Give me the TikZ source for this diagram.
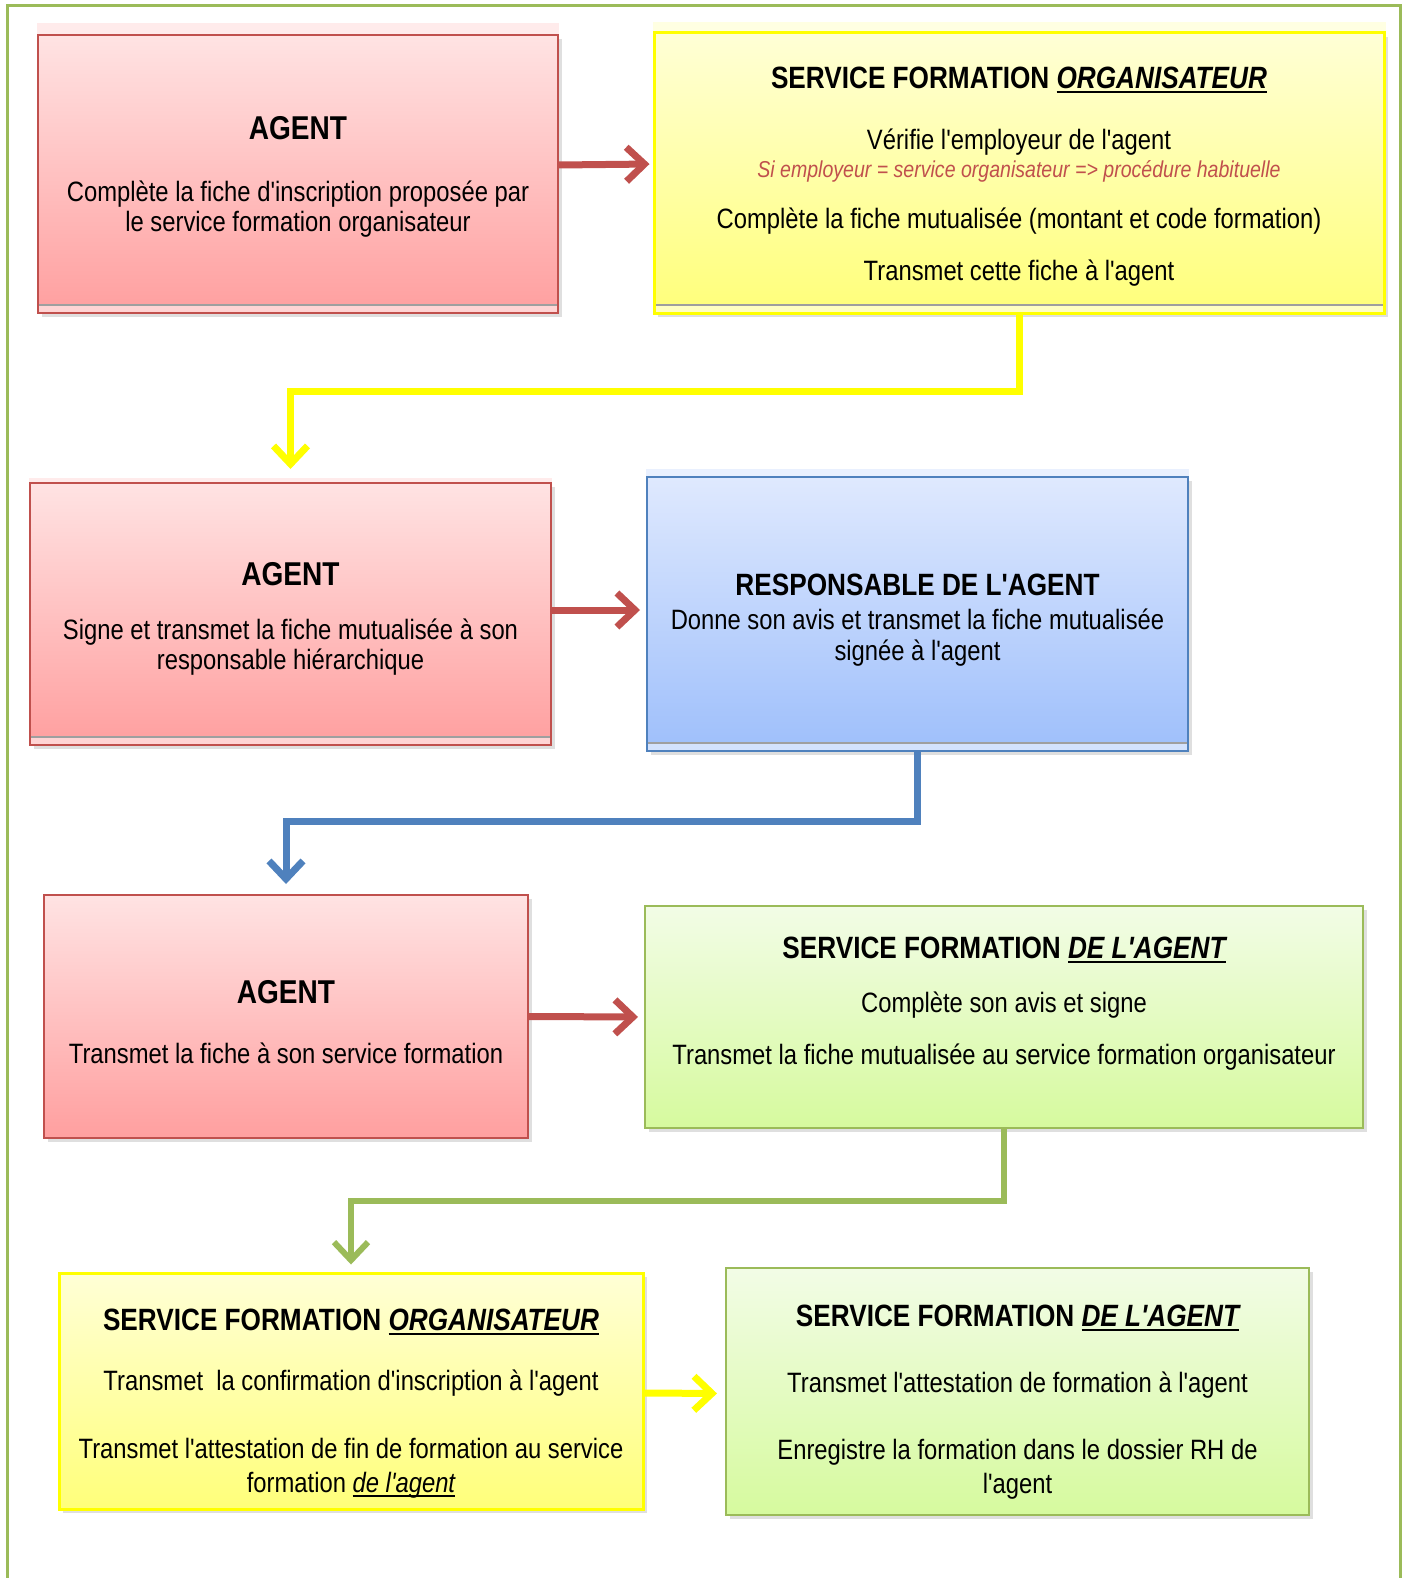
\documentclass[tikz,border=0pt]{standalone}
\usepackage{fontspec}
\setmainfont{Liberation Sans}[FakeStretch=0.85, Ligatures=TeXOff]
\usetikzlibrary{arrows.meta,shadows}

\definecolor{redline}{HTML}{C0504D}
\definecolor{redtop}{HTML}{FFE3E3}
\definecolor{redbot}{HTML}{FF9F9F}
\definecolor{yeltop}{HTML}{FFFFD6}
\definecolor{yelbot}{HTML}{FFFF7A}
\definecolor{yelline}{HTML}{FFFF00}
\definecolor{bluetop}{HTML}{DFE9FE}
\definecolor{bluebot}{HTML}{9EBFFB}
\definecolor{blueline}{HTML}{4F81BD}
\definecolor{greentop}{HTML}{F2FCE6}
\definecolor{greenbot}{HTML}{D6FA9E}
\definecolor{greenline}{HTML}{9BBB59}

\newcommand\titlefont{\fontsize{15.4}{18}\selectfont\bfseries}
\newcommand\agentfont{\fontsize{16.5}{18}\selectfont\bfseries}
\newcommand\notefont{\fontsize{11.5}{13}\selectfont\itshape}
\newcommand\pad[1]{\rule{0pt}{#1}}
\newcommand\ulbold[1]{\setbox0=\hbox{\itshape #1}\rlap{\rule[-2.4pt]{\wd0}{1.4pt}}\box0}
\newcommand\ulthin[1]{\setbox0=\hbox{\itshape #1}\rlap{\rule[-2.4pt]{\wd0}{1pt}}\box0}

\tikzset{
  box/.style={draw, line width=1pt, align=center,
    font=\fontsize{14}{16}\selectfont,
    drop shadow={opacity=0.25, shadow xshift=2pt, shadow yshift=-2pt}},
  bevel/.style={path picture={
    \fill[white, opacity=0.55] ([yshift=4pt]path picture bounding box.south west)
      rectangle (path picture bounding box.south east);
    \draw[gray!75, line width=1pt] ([yshift=4pt]path picture bounding box.south west)
      -- ([yshift=4pt]path picture bounding box.south east);}},
  redbox/.style={box, draw=redline, top color=redtop, bottom color=redbot},
  yelbox/.style={box, draw=yelline, line width=1.5pt, top color=yeltop, bottom color=yelbot},
  bluebox/.style={box, draw=blueline, top color=bluetop, bottom color=bluebot},
  greenbox/.style={box, draw=greenline, top color=greentop, bottom color=greenbot},
  band/.style={fill=#1, opacity=0.7},
  link/.style={line width=3.5pt, -{Straight Barb[length=9pt,width=17pt]}},
  frame/.style={draw=greenline, line width=1.5pt}
}

\begin{document}
\begin{tikzpicture}[x=0.5pt,y=-0.5pt]
  \useasboundingbox (0,0) rectangle (1406,1578);
  \draw[frame] (7,1578) |- (1400,6) -- (1400,1578);

  % first row
  \node[redbox, bevel, minimum width=260pt, minimum height=139pt] (agent1) at (298,174)
    {\pad{14pt}{\agentfont AGENT}\\[15pt]
     Complète la fiche d'inscription proposée par\\[-1pt]
     le service formation organisateur};
  \node[yelbox, bevel, minimum width=365pt, minimum height=140pt] (orga1) at (1019,173)
    {\pad{14.5pt}{\titlefont SERVICE FORMATION \ulbold{ORGANISATEUR}}\\[14.5pt]
     Vérifie l'employeur de l'agent\\[-2pt]
     {\notefont\color{redline}Si employeur = service organisateur => procédure habituelle}\\[9.5pt]
     Complète la fiche mutualisée (montant et code formation)\\[10pt]
     Transmet cette fiche à l'agent};

  % second row
  \node[redbox, bevel, minimum width=260.5pt, minimum height=131pt] (agent2) at (290.5,614)
    {\pad{16.5pt}{\agentfont AGENT}\\[11pt]
     Signe et transmet la fiche mutualisée à son\\[-1pt]
     responsable hiérarchique};
  \node[bluebox, bevel, minimum width=270.5pt, minimum height=137pt] (resp) at (917.5,614)
    {\pad{16.5pt}{\titlefont RESPONSABLE DE L'AGENT}\\[1pt]
     Donne son avis et transmet la fiche mutualisée\\[-0.5pt]
     signée à l'agent};

  % third row
  \node[redbox, minimum width=242pt, minimum height=121.5pt] (agent3) at (286,1016.5)
    {\pad{17pt}{\agentfont AGENT}\\[14pt]
     Transmet la fiche à son service formation};
  \node[greenbox, minimum width=359pt, minimum height=111pt] (sfagent1) at (1004,1017)
    {\pad{16.5pt}{\titlefont SERVICE FORMATION \ulbold{DE L'AGENT}}\\[11pt]
     Complète son avis et signe\\[10pt]
     Transmet la fiche mutualisée au service formation organisateur\\[6pt]
     \mbox{}};

  % fourth row
  \node[yelbox, minimum width=292pt, minimum height=118pt] (orga2) at (351,1391)
    {\pad{23.5pt}{\titlefont SERVICE FORMATION \ulbold{ORGANISATEUR}}\\[14pt]
     Transmet\ \ la confirmation d'inscription à l'agent\\[18pt]
     Transmet l'attestation de fin de formation au service\\[1pt]
     formation \ulthin{de l'agent}};
  \node[greenbox, minimum width=291.5pt, minimum height=123.5pt] (sfagent2) at (1017.5,1391.5)
    {\pad{21.5pt}{\titlefont SERVICE FORMATION \ulbold{DE L'AGENT}}\\[17pt]
     Transmet l'attestation de formation à l'agent\\[17.5pt]
     Enregistre la formation dans le dossier RH de\\[1pt]
     l'agent};

  % light bands over the top rows
  \fill[band=redtop] (agent1.north west) rectangle ([yshift=5.5pt]agent1.north east);
  \fill[band=yeltop] (orga1.north west) rectangle ([yshift=4.5pt]orga1.north east);
  \fill[band=redtop] (agent2.north west) rectangle ([yshift=2pt]agent2.north east);
  \fill[band=bluetop] (resp.north west) rectangle ([yshift=3.5pt]resp.north east);

  \begin{scope}[link]
    \draw[redline, shorten >=1.5pt] ([yshift=4.5pt]agent1.east) -- ([yshift=4.5pt]orga1.west);
    \draw[yelline, shorten >=6.5pt] (orga1.south) -- ++(0,77) -| (agent2.north);
    \draw[redline, shorten >=3pt] ([yshift=2pt]agent2.east) -- ([yshift=2pt]resp.west);
    \draw[blueline, shorten >=5pt] (resp.south) -- ++(0,69) -| (agent3.north);
    \draw[redline, shorten >=3pt] (agent3.east) -- (sfagent1.west);
    \draw[greenline, line width=3pt, shorten >=3.5pt] (sfagent1.south) -- ++(0,72) -| (orga2.north);
    \draw[yelline, shorten >=4pt] ([yshift=-1pt]orga2.east) -- ([yshift=-1pt]sfagent2.west);
  \end{scope}
\end{tikzpicture}
\end{document}
